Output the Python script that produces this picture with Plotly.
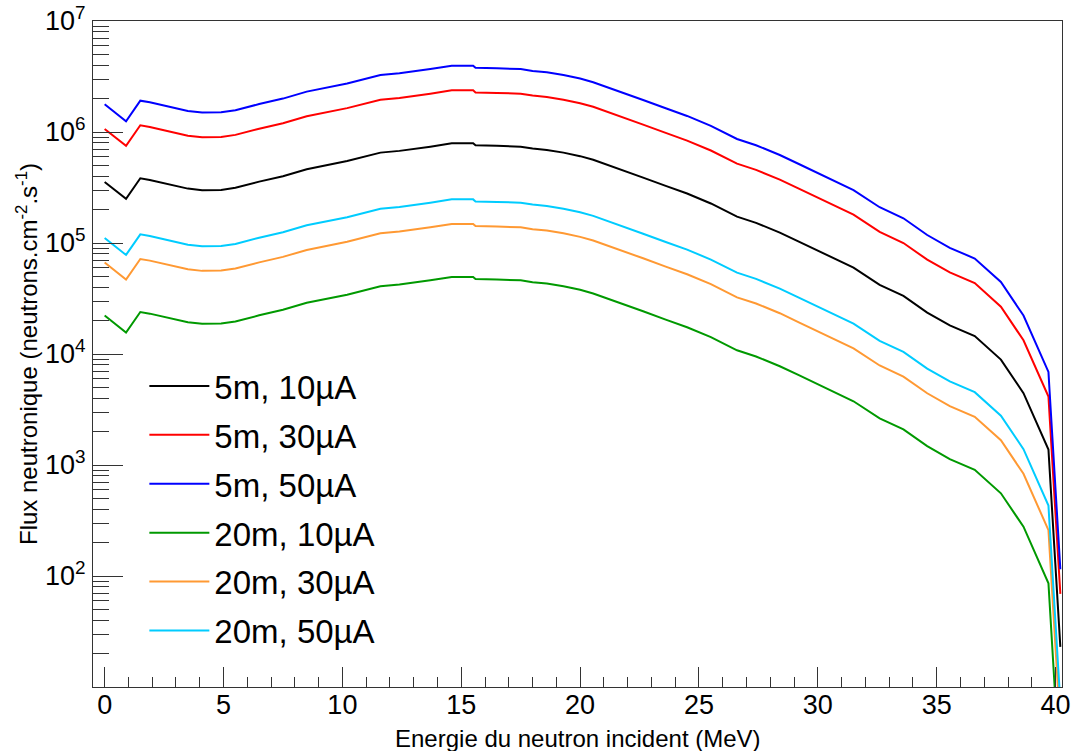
import plotly.graph_objects as go

energy = [0.0, 0.44, 0.9, 1.5, 1.9, 3.5, 4.1, 4.9, 5.5, 6.5, 7.5, 8.5, 9.3, 10.2, 11.6, 12.4,
          13.7, 14.6, 15.5, 15.6, 16.5, 17.5, 18.0, 18.6, 19.3, 20.0, 20.55, 21.7, 22.65, 23.6,
          24.5, 25.5, 26.6, 27.4, 28.4, 29.2, 30.3, 31.5, 32.6, 33.6, 34.6, 35.55, 36.6, 37.7,
          38.65, 39.7, 39.75, 40.2]

flux_5m_10uA = [3.55e5, 2.99e5, 2.50e5, 3.83e5, 3.70e5, 3.09e5, 2.99e5, 3.01e5, 3.14e5, 3.57e5,
                4.00e5, 4.62e5, 5.02e5, 5.47e5, 6.52e5, 6.76e5, 7.38e5, 7.91e5, 7.91e5, 7.58e5,
                7.50e5, 7.38e5, 7.10e5, 6.90e5, 6.52e5, 6.06e5, 5.62e5, 4.62e5, 3.88e5, 3.27e5,
                2.79e5, 2.27e5, 1.73e5, 1.52e5, 1.24e5, 1.03e5, 7.94e4, 6.00e4, 4.20e4, 3.34e4,
                2.36e4, 1.81e4, 1.45e4, 8.90e3, 4.44e3, 1.38e3, 9.10e2, 23]

flux_5m_30uA = [1.065e6, 8.97e5, 7.50e5, 1.149e6, 1.11e6, 9.27e5, 8.97e5, 9.03e5, 9.42e5, 1.071e6,
                1.20e6, 1.386e6, 1.506e6, 1.641e6, 1.956e6, 2.028e6, 2.214e6, 2.373e6, 2.373e6,
                2.274e6, 2.25e6, 2.214e6, 2.13e6, 2.07e6, 1.956e6, 1.818e6, 1.686e6, 1.386e6,
                1.164e6, 9.81e5, 8.37e5, 6.81e5, 5.19e5, 4.56e5, 3.72e5, 3.09e5, 2.38e5, 1.80e5,
                1.26e5, 1.00e5, 7.08e4, 5.43e4, 4.35e4, 2.67e4, 1.33e4, 4.14e3, 2.73e3, 69]

flux_5m_50uA = [1.775e6, 1.495e6, 1.25e6, 1.915e6, 1.85e6, 1.545e6, 1.495e6, 1.505e6, 1.57e6,
                1.785e6, 2.0e6, 2.31e6, 2.51e6, 2.735e6, 3.26e6, 3.38e6, 3.69e6, 3.955e6, 3.955e6,
                3.79e6, 3.75e6, 3.69e6, 3.55e6, 3.45e6, 3.26e6, 3.03e6, 2.81e6, 2.31e6, 1.94e6,
                1.635e6, 1.395e6, 1.135e6, 8.65e5, 7.6e5, 6.2e5, 5.15e5, 3.97e5, 3.0e5, 2.1e5,
                1.67e5, 1.18e5, 9.05e4, 7.25e4, 4.45e4, 2.22e4, 6.9e3, 4.55e3, 115]

flux_20m_10uA = [2.22e4, 1.87e4, 1.56e4, 2.39e4, 2.31e4, 1.93e4, 1.87e4, 1.88e4, 1.96e4, 2.23e4,
                 2.5e4, 2.89e4, 3.14e4, 3.42e4, 4.08e4, 4.23e4, 4.61e4, 4.94e4, 4.94e4, 4.74e4,
                 4.69e4, 4.61e4, 4.44e4, 4.31e4, 4.08e4, 3.79e4, 3.51e4, 2.89e4, 2.43e4, 2.04e4,
                 1.74e4, 1.42e4, 1.08e4, 9.5e3, 7.75e3, 6.44e3, 4.96e3, 3.75e3, 2.63e3, 2.09e3,
                 1.48e3, 1.13e3, 906, 556, 278, 86, 57, 1.4]

flux_20m_30uA = [6.66e4, 5.61e4, 4.69e4, 7.18e4, 6.94e4, 5.79e4, 5.61e4, 5.64e4, 5.89e4, 6.69e4,
                 7.5e4, 8.66e4, 9.41e4, 1.026e5, 1.223e5, 1.268e5, 1.384e5, 1.483e5, 1.483e5,
                 1.421e5, 1.406e5, 1.384e5, 1.331e5, 1.294e5, 1.223e5, 1.136e5, 1.054e5, 8.66e4,
                 7.28e4, 6.13e4, 5.23e4, 4.26e4, 3.24e4, 2.85e4, 2.33e4, 1.93e4, 1.49e4, 1.125e4,
                 7.88e3, 6.26e3, 4.43e3, 3.39e3, 2.72e3, 1.67e3, 833, 259, 171, 4.3]

flux_20m_50uA = [1.109e5, 9.34e4, 7.81e4, 1.197e5, 1.156e5, 9.66e4, 9.34e4, 9.41e4, 9.81e4,
                 1.116e5, 1.25e5, 1.444e5, 1.569e5, 1.709e5, 2.038e5, 2.113e5, 2.306e5, 2.472e5,
                 2.472e5, 2.369e5, 2.344e5, 2.306e5, 2.219e5, 2.156e5, 2.038e5, 1.894e5, 1.756e5,
                 1.444e5, 1.213e5, 1.022e5, 8.72e4, 7.09e4, 5.41e4, 4.75e4, 3.875e4, 3.22e4,
                 2.48e4, 1.875e4, 1.313e4, 1.044e4, 7.38e3, 5.66e3, 4.53e3, 2.78e3, 1.39e3, 431,
                 284, 7.2]

series_names = ["5m, 10µA", "5m, 30µA", "5m, 50µA", "20m, 10µA", "20m, 30µA", "20m, 50µA"]
series_values = [flux_5m_10uA, flux_5m_30uA, flux_5m_50uA, flux_20m_10uA, flux_20m_30uA, flux_20m_50uA]
series_colors = ["#000000", "#ff0000", "#0000ff", "#009900", "#ff9933", "#00ccff"]

x_major = [0, 5, 10, 15, 20, 25, 30, 35, 40]
x_minor = [v for v in range(0, 41) if v % 5 != 0]
y_major = [1e2, 1e3, 1e4, 1e5, 1e6, 1e7]
y_major_text = ["10<sup>2</sup>", "10<sup>3</sup>", "10<sup>4</sup>", "10<sup>5</sup>",
                "10<sup>6</sup>", "10<sup>7</sup>"]
y_minor = [m * 10 ** k for k in range(1, 7) for m in range(2, 10)]

x_title = "Energie du neutron incident (MeV)"
y_title = "Flux neutronique (neutrons.cm<sup>-2</sup>.s<sup>-1</sup>)"

FONT = "Liberation Sans, Arial, Helvetica, sans-serif"
AX = "#333333"

fig = go.Figure()
for i, (name, vals, col) in enumerate(zip(series_names, series_values, series_colors)):
    fig.add_trace(go.Scatter(x=energy, y=vals, mode="lines", name=name,
                             line=dict(color=col, width=2), legendgroup=f"g{i}"))

fig.update_layout(
    width=1077, height=751,
    margin=dict(l=93, r=15, t=21, b=64),
    paper_bgcolor="white", plot_bgcolor="white",
    font=dict(family=FONT, color="black"),
    showlegend=True,
    legend=dict(x=0.053, y=0.494, xanchor="left", yanchor="top",
                font=dict(size=33, family=FONT), bgcolor="rgba(0,0,0,0)",
                itemwidth=60, tracegroupgap=3),
    xaxis=dict(range=[-0.49, 40.27], tickvals=x_major, ticks="inside", ticklen=20,
               tickcolor=AX, tickwidth=1, showline=True, linecolor=AX, linewidth=1,
               mirror=True, showgrid=False, zeroline=False, automargin=False,
               tickfont=dict(size=27, family=FONT), ticklabeloverflow="allow",
               ticklabelstandoff=-6,
               minor=dict(tickvals=x_minor, ticks="inside", ticklen=10, tickcolor=AX, showgrid=False)),
    yaxis=dict(type="log", range=[1, 7], tickvals=y_major, ticktext=y_major_text,
               ticks="inside", ticklen=30, tickcolor=AX, tickwidth=1,
               showline=True, linecolor=AX, linewidth=1, mirror=True, automargin=False,
               showgrid=False, zeroline=False, tickfont=dict(size=27, family=FONT),
               ticklabelstandoff=1, ticklabeloverflow="allow",
               minor=dict(tickvals=y_minor, ticks="inside", ticklen=16, tickcolor=AX, showgrid=False),
               title=dict(text=y_title, font=dict(size=24, family=FONT), standoff=0)),
    annotations=[dict(text=x_title, xref="paper", yref="paper", x=0.5, y=-0.078,
                      xanchor="center", yanchor="middle", showarrow=False,
                      font=dict(size=24, family=FONT, color="black"))],
)

# remove the page's default 8px body margin so the figure fills the 1077x751 window
fig.write_html("out.html", config={"displayModeBar": False},
               post_script="document.body.style.margin='0px';document.body.style.overflow='hidden';")
